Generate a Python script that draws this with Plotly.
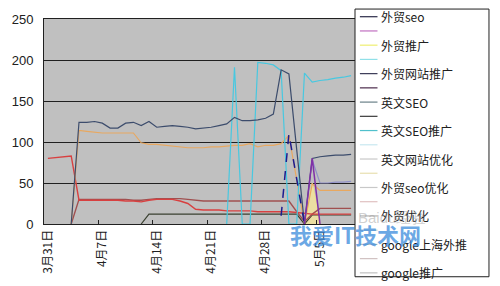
import plotly.graph_objects as go
import pandas as pd

# ---- categories (daily, 3/31 .. 5/9) ----
dates = pd.date_range("2011-03-31", periods=40)
categories = [f"{d.month}月{d.day}日" for d in dates]
N = None

# ---- series values ----
ying_seo = [N, N, N, 0, 124, 124, 125, 123, 117, 117,
            123, 124, 120, 125, 118, 119, 120, 119, 118, 116,
            117, 118, 120, 122, 130, 126, 126, 127, 129, 134,
            188, 183, 91, 0, 80, 82, 83, 84, 84, 85]
ying_seo_tg = [N, N, N, N, N, N, N, N, N, N,
               N, N, N, N, N, N, N, N, N, N,
               N, N, N, 0, 191, 0, 0, 197, 196, 194,
               187, 0, 0, 184, 173, 175, 176, 178, 179, 181]
orange_s = [N, N, N, 0, 114, 113, 112, 111, 111, 111,
            111, 111, 99, 97, 97, 96, 95, 94, 93, 93,
            93, 94, 94, 95, 96, 96, 98, 94, 96, 96,
            98, 108, 54, 0, 49, 41, 41, 41, 41, 41]
navy_s = [N, N, N, N, N, N, N, N, N, N,
          N, N, N, N, N, N, N, N, N, N,
          N, N, N, N, N, N, N, N, N, N,
          10, 110, 55, 0, N, N, N, N, N, N]
purple_s = [N, N, N, N, N, N, N, N, N, N,
            N, N, N, N, N, N, N, N, N, N,
            N, N, N, N, N, N, N, N, N, N,
            N, N, N, 0, 80, 0, N, N, N, N]
lavender_s = [N, N, N, N, N, N, N, N, N, N,
              N, N, N, N, N, N, N, N, N, N,
              N, N, N, N, N, N, N, N, N, N,
              N, N, N, N, 78, 50, 50, 51, 51, 52]
yellow_s = [N, N, N, N, N, N, N, N, N, N,
            N, N, N, N, N, N, N, N, N, N,
            N, N, N, N, N, N, N, N, N, N,
            N, N, N, 0, 50, 0, N, N, N, N]
red_s = [80, 81, 82, 83, 29, 29, 29, 29, 29, 29,
         28, 28, 27, 29, 30, 30, 30, 28, 25, 18,
         17, 17, 17, 16, 16, 16, 16, 15, 15, 15,
         15, 15, 14, 13, 12, 12, 12, 12, 12, 12]
brown_s = [N, N, N, 0, 30, 30, 30, 30, 30, 30,
           30, 29, 29, 30, 31, 31, 31, 31, 30, 29,
           28, 28, 28, 28, 28, 28, 28, 28, 28, 28,
           28, 28, 15, 3, 12, 19, 19, 19, 19, 19]
dark_s = [N, N, N, N, N, N, N, N, N, N,
          N, N, 0, 12, 12, 12, 12, 12, 12, 12,
          12, 12, 12, 12, 12, 12, 12, 12, 12, 12,
          12, 12, 12, 0, 11, 11, 11, 11, 11, 11]

# legend entries (as shown in the picture)
legend_names = ["外贸seo", "", "外贸推广", "", "外贸网站推广", "", "英文SEO", "",
                "英文SEO推广", "", "英文网站优化", "", "外贸seo优化", "", "外贸优化",
                "", "google上海外推", "", "google推广"]
legend_colors = ["#2a2a48", "#c070c0", "#eeee70", "#90e0e8", "#3a3a55", "#4a2a4a",
                 "#6a8088", "#3a3a3a", "#50c0cc", "#c8e8f0", "#c8c8c8", "#e8e0b0",
                 "#c8c8c8", "#e0c0c0", "#b0b0b0", "#d0d0d0", "#c0c0c0", "#d0c0c0",
                 "#c0c0c0"]

fig = go.Figure()

def line(y, color, width=1.2, dash="solid", fill=None, fillcolor=None):
    fig.add_trace(go.Scatter(x=categories, y=y, mode="lines",
                             line=dict(color=color, width=width, dash=dash),
                             fill=fill, fillcolor=fillcolor,
                             connectgaps=False, showlegend=False,
                             hoverinfo="skip"))

line(yellow_s, "#f0e090", fill="tozeroy", fillcolor="rgba(240,225,160,0.9)")
line(dark_s, "#3a4030", 1.2)
line(brown_s, "#a05050", 1.4)
line(red_s, "#d84040", 1.4)
line(orange_s, "#e8a860", 1.2)
line(lavender_s, "#9090c8", 1.2)
line(ying_seo_tg, "#48c8e0", 1.2)
line(ying_seo, "#3c4c6c", 1.2)
line(navy_s, "#1c1c90", 1.5, dash="dash")
line(purple_s, "#8030a8", 1.5)

# plot-area geometry helpers (px -> paper)
L, R, T, B = 37, 355, 18, 224
def fx(px):
    return (px - L) / (R - L)
def fy(py):
    return (B - py) / (B - T)

shapes = [dict(type="rect", xref="paper", yref="paper",
               x0=fx(355), x1=fx(492), y0=fy(8), y1=fy(277),
               line=dict(color="#202020", width=1), fillcolor="white", layer="above")]
annotations = []
for i, (nm, col) in enumerate(zip(legend_names, legend_colors)):
    py = 15.7 + i * 14.3
    shapes.append(dict(type="line", xref="paper", yref="paper",
                       x0=fx(360), x1=fx(378), y0=fy(py), y1=fy(py),
                       line=dict(color=col, width=1.2), layer="above"))
    if nm:
        annotations.append(dict(xref="paper", yref="paper", x=fx(380), y=fy(py),
                                text=nm, showarrow=False, xanchor="left",
                                yanchor="middle",
                                font=dict(size=12, color="#202020",
                                          family="Noto Sans CJK SC")))

# watermark text
annotations.append(dict(xref="paper", yref="paper", x=fx(430), y=fy(228),
                        text="Baidu经验", showarrow=False,
                        font=dict(size=15, color="rgba(150,150,150,0.45)",
                                  family="Liberation Sans")))
annotations.append(dict(xref="paper", yref="paper", x=fx(425), y=fy(252),
                        text="<b>我爱IT技术网</b>", showarrow=False,
                        font=dict(size=22, color="rgba(60,140,220,0.75)",
                                  family="Noto Sans CJK SC")))

fig.update_layout(
    width=500, height=286,
    margin=dict(l=L, r=500 - R, t=T, b=286 - B),
    paper_bgcolor="white", plot_bgcolor="#c0c0c0",
    shapes=shapes, annotations=annotations,
    font=dict(family="Liberation Sans", size=12, color="#202020"),
    xaxis=dict(type="category", range=[-0.5, 39.5], tickmode="linear",
               tick0=0, dtick=7, tickson="boundaries", ticks="inside",
               ticklen=4, tickcolor="#202020", tickangle=-90,
               showgrid=False, showline=True, linecolor="#202020",
               linewidth=1, mirror=True,
               tickfont=dict(size=12, family="Noto Sans CJK SC")),
    yaxis=dict(range=[0, 250], dtick=50, showgrid=True, gridcolor="#202020",
               gridwidth=1, zeroline=False, showline=True,
               linecolor="#202020", linewidth=1, ticks="",
               ticklabelstandoff=7, tickfont=dict(size=13)),
)

fig.write_html("out.html")
